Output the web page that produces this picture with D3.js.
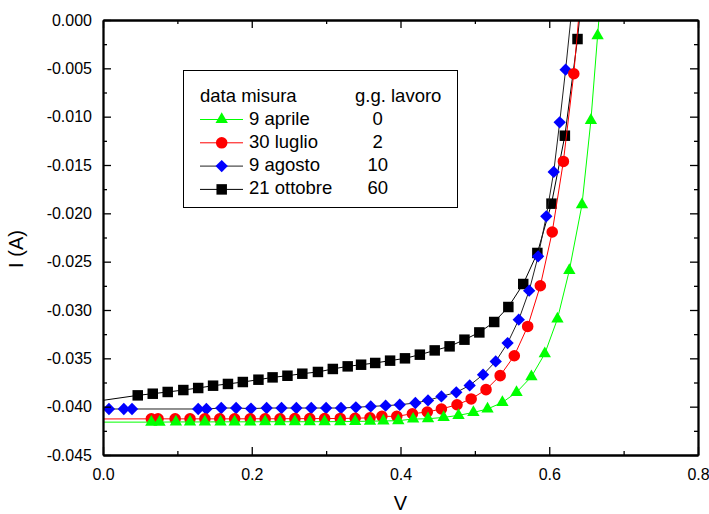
<!DOCTYPE html>
<html>
<head>
<meta charset="utf-8">
<script src="https://cdn.jsdelivr.net/npm/d3@7"></script>
<style>
  body { margin: 0; background: #fff; }
  svg { display: block; font-family: "Liberation Sans", Arial, sans-serif; }
</style>
</head>
<body>
<div id="chart"></div>
<script>
// serie: data misura / giorni di lavoro
const seriesNames = ["9 aprile", "30 luglio", "9 agosto", "21 ottobre"];
const workDays = ["0", "2", "10", "60"];

// 9 aprile (V, I)
const vApr = [-0.05, 0.065, 0.076, 0.098, 0.117, 0.137, 0.158, 0.177, 0.198, 0.218, 0.238, 0.258, 0.278, 0.298, 0.319, 0.339, 0.359, 0.377, 0.397, 0.417, 0.437, 0.458, 0.478, 0.498, 0.517, 0.537, 0.556, 0.576, 0.594, 0.611, 0.627, 0.644, 0.656, 0.665, 0.672];
const iApr = [-0.0416, -0.0416, -0.0416, -0.04158, -0.04158, -0.04158, -0.04157, -0.04157, -0.04157, -0.04156, -0.04156, -0.04156, -0.04156, -0.04155, -0.04155, -0.04153, -0.0415, -0.04148, -0.04145, -0.04128, -0.04125, -0.04111, -0.0409, -0.0406, -0.04024, -0.03956, -0.03852, -0.0369, -0.03452, -0.03093, -0.0259, -0.01911, -0.01039, -0.00162, 0.005];

// 30 luglio
const vLug = [-0.05, 0.065, 0.074, 0.097, 0.117, 0.137, 0.157, 0.177, 0.198, 0.218, 0.238, 0.258, 0.278, 0.298, 0.319, 0.339, 0.359, 0.375, 0.395, 0.416, 0.436, 0.455, 0.476, 0.495, 0.515, 0.534, 0.553, 0.571, 0.588, 0.604, 0.619, 0.633, 0.645];
const iLug = [-0.04128, -0.04126, -0.04126, -0.04126, -0.04126, -0.04126, -0.04126, -0.04126, -0.04125, -0.04125, -0.04125, -0.04124, -0.04124, -0.04123, -0.04122, -0.0412, -0.04115, -0.0410, -0.0410, -0.04073, -0.04055, -0.04024, -0.0398, -0.0392, -0.03824, -0.03679, -0.03473, -0.0317, -0.02749, -0.02193, -0.01463, -0.00556, 0.005];

// 9 agosto
const vAgo = [-0.05, 0.008, 0.028, 0.039, 0.128, 0.139, 0.159, 0.179, 0.199, 0.220, 0.240, 0.260, 0.280, 0.300, 0.320, 0.340, 0.360, 0.380, 0.399, 0.420, 0.437, 0.455, 0.475, 0.493, 0.511, 0.528, 0.544, 0.559, 0.573, 0.585, 0.596, 0.606, 0.614, 0.622, 0.6355];
const iAgo = [-0.04024, -0.04024, -0.04024, -0.04024, -0.04024, -0.04024, -0.04014, -0.04014, -0.0402, -0.04014, -0.04014, -0.04014, -0.04014, -0.04014, -0.04014, -0.04007, -0.03997, -0.0399, -0.0398, -0.03962, -0.03935, -0.03894, -0.03852, -0.0378, -0.03669, -0.03532, -0.03342, -0.031, -0.028, -0.02445, -0.02031, -0.01572, -0.01059, -0.00514, 0.005];

// 21 ottobre
const vOtt = [-0.05, 0.0467, 0.0669, 0.087, 0.108, 0.128, 0.148, 0.168, 0.188, 0.209, 0.228, 0.248, 0.268, 0.289, 0.309, 0.329, 0.347, 0.366, 0.386, 0.406, 0.426, 0.446, 0.466, 0.486, 0.506, 0.526, 0.545, 0.565, 0.584, 0.603, 0.621, 0.638, 0.647];
const iOtt = [-0.0399, -0.03883, -0.03866, -0.03848, -0.03828, -0.03807, -0.03783, -0.03765, -0.03745, -0.03721, -0.03697, -0.0368, -0.03659, -0.03641, -0.0361, -0.03583, -0.03566, -0.03548, -0.03524, -0.035, -0.03462, -0.03418, -0.03376, -0.03307, -0.03232, -0.03124, -0.02969, -0.02731, -0.0241, -0.019, -0.01197, -0.00197, 0.005];

const xTicks = [0, 0.2, 0.4, 0.6, 0.8];
const xTickLabels = ["0.0", "0.2", "0.4", "0.6", "0.8"];
const xMinor = [0.1, 0.3, 0.5, 0.7];
const yTicks = [0, -0.005, -0.01, -0.015, -0.02, -0.025, -0.03, -0.035, -0.04, -0.045];
const yTickLabels = ["0.000", "-0.005", "-0.010", "-0.015", "-0.020", "-0.025", "-0.030", "-0.035", "-0.040", "-0.045"];
const yMinor = [-0.0025, -0.0075, -0.0125, -0.0175, -0.0225, -0.0275, -0.0325, -0.0375, -0.0425];

const totalW = 709, totalH = 514;
const margin = { top: 20, right: 11, bottom: 59, left: 103 };
const width = totalW - margin.left - margin.right;
const height = totalH - margin.top - margin.bottom;

const zip = (vs, is) => vs.map((v, k) => ({ v: v, i: is[k] }));

// ordine di disegno: ottobre sotto, aprile sopra
const series = [
  { name: seriesNames[3], days: workDays[3], data: zip(vOtt, iOtt), line: "#000", fill: "#000", shape: d3.symbolSquare, size: 110, rot: 0 },
  { name: seriesNames[2], days: workDays[2], data: zip(vAgo, iAgo), line: "#222", fill: "#0000ff", shape: d3.symbolSquare, size: 76, rot: 45 },
  { name: seriesNames[1], days: workDays[1], data: zip(vLug, iLug), line: "#ff0000", fill: "#ff0000", shape: d3.symbolCircle, size: 105, rot: 0 },
  { name: seriesNames[0], days: workDays[0], data: zip(vApr, iApr), line: "#00ff00", fill: "#00ff00", shape: d3.symbolTriangle, size: 66, rot: 0 }
];

const svg = d3.select("#chart").append("svg")
  .attr("width", totalW)
  .attr("height", totalH);

const g = svg.append("g")
  .attr("transform", `translate(${margin.left},${margin.top})`);

const x = d3.scaleLinear().domain([0, 0.8]).range([0, width]);
const y = d3.scaleLinear().domain([-0.045, 0]).range([height, 0]);

g.append("defs").append("clipPath")
  .attr("id", "plot-clip")
  .append("rect")
  .attr("width", width)
  .attr("height", height);

const plot = g.append("g").attr("clip-path", "url(#plot-clip)");

const line = d3.line()
  .x(d => x(d.v))
  .y(d => y(d.i));

series.forEach(s => {
  plot.append("path")
    .datum(s.data)
    .attr("fill", "none")
    .attr("stroke", s.line)
    .attr("stroke-width", 1)
    .attr("d", line);

  plot.selectAll(null)
    .data(s.data)
    .enter().append("path")
    .attr("transform", d => `translate(${x(d.v)},${y(d.i)}) rotate(${s.rot})`)
    .attr("d", d3.symbol().type(s.shape).size(s.size))
    .attr("fill", s.fill);
});

// assi con tacche verso l'interno su tutti e quattro i lati
const styleAxis = sel => {
  sel.select(".domain").attr("stroke-width", 1.8);
  sel.selectAll(".tick line").attr("stroke-width", 1.3);
  sel.selectAll("text").style("font-size", "16px").attr("fill", "#000");
};

g.append("g")
  .attr("transform", `translate(0,${height})`)
  .call(d3.axisBottom(x).tickValues(xTicks).tickFormat((d, k) => xTickLabels[k]).tickSize(-8).tickSizeOuter(0).tickPadding(14))
  .call(styleAxis);
g.append("g")
  .attr("transform", `translate(0,${height})`)
  .call(d3.axisBottom(x).tickValues(xMinor).tickFormat("").tickSize(-4).tickSizeOuter(0))
  .call(styleAxis);

g.append("g")
  .call(d3.axisTop(x).tickValues(xTicks).tickFormat("").tickSize(-8).tickSizeOuter(0))
  .call(styleAxis);
g.append("g")
  .call(d3.axisTop(x).tickValues(xMinor).tickFormat("").tickSize(-4).tickSizeOuter(0))
  .call(styleAxis);

g.append("g")
  .call(d3.axisLeft(y).tickValues(yTicks).tickFormat((d, k) => yTickLabels[k]).tickSize(-8).tickSizeOuter(0).tickPadding(11))
  .call(styleAxis);
g.append("g")
  .call(d3.axisLeft(y).tickValues(yMinor).tickFormat("").tickSize(-4).tickSizeOuter(0))
  .call(styleAxis);

g.append("g")
  .attr("transform", `translate(${width},0)`)
  .call(d3.axisRight(y).tickValues(yTicks).tickFormat("").tickSize(-8).tickSizeOuter(0))
  .call(styleAxis);
g.append("g")
  .attr("transform", `translate(${width},0)`)
  .call(d3.axisRight(y).tickValues(yMinor).tickFormat("").tickSize(-4).tickSizeOuter(0))
  .call(styleAxis);

// titoli degli assi
svg.append("text")
  .attr("x", margin.left + width / 2)
  .attr("y", 510)
  .attr("text-anchor", "middle")
  .style("font-size", "20px")
  .text("V");

svg.append("text")
  .attr("transform", "translate(23,249) rotate(-90)")
  .attr("text-anchor", "middle")
  .style("font-size", "20px")
  .text("I (A)");

// legenda
const legend = svg.append("g");

legend.append("rect")
  .attr("x", 183.5)
  .attr("y", 70.5)
  .attr("width", 274)
  .attr("height", 137)
  .attr("fill", "#fff")
  .attr("stroke", "#000")
  .attr("stroke-width", 1);

legend.append("text")
  .attr("x", 200)
  .attr("y", 101.5)
  .style("font-size", "18.5px")
  .text("data misura");

legend.append("text")
  .attr("x", 355)
  .attr("y", 101.5)
  .style("font-size", "18.5px")
  .text("g.g. lavoro");

const legendRows = series.slice().reverse();
legendRows.forEach((s, k) => {
  const by = 124.5 + k * 23.3;
  const row = legend.append("g");
  row.append("line")
    .attr("x1", 200).attr("x2", 243)
    .attr("y1", by - 5).attr("y2", by - 5)
    .attr("stroke", s.line)
    .attr("stroke-width", 1);
  row.append("path")
    .attr("transform", `translate(221.7,${by - 5}) rotate(${s.rot})`)
    .attr("d", d3.symbol().type(s.shape).size(s.size))
    .attr("fill", s.fill);
  row.append("text")
    .attr("x", 249)
    .attr("y", by)
    .style("font-size", "18.5px")
    .text(s.name);
  row.append("text")
    .attr("x", 377.7)
    .attr("y", by)
    .attr("text-anchor", "middle")
    .style("font-size", "18.5px")
    .text(s.days);
});
</script>
</body>
</html>
